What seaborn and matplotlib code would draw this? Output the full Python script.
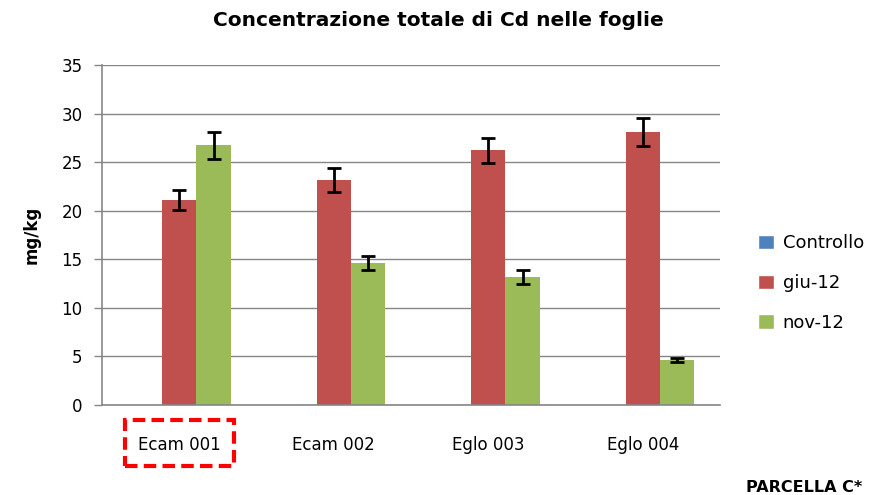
import numpy as np
import pandas as pd
import matplotlib
matplotlib.use("Agg")
import matplotlib.pyplot as plt
import seaborn as sns
from matplotlib.patches import Rectangle

categories = ["Ecam 001", "Ecam 002", "Eglo 003", "Eglo 004"]
series = ["Controllo", "giu-12", "nov-12"]
controllo = [0, 0, 0, 0]
giu12 = [21.1, 23.15, 26.2, 28.1]
nov12 = [26.75, 14.6, 13.2, 4.63]
controllo_err = [0, 0, 0, 0]
giu12_err = [1.05, 1.2, 1.3, 1.4]
nov12_err = [1.4, 0.75, 0.7, 0.2]
colors = ["#4F81BD", "#C0504D", "#9BBB59"]

values = {"Controllo": controllo, "giu-12": giu12, "nov-12": nov12}
errors = {"Controllo": controllo_err, "giu-12": giu12_err, "nov-12": nov12_err}

rows = []
for s in series:
    for c, v in zip(categories, values[s]):
        rows.append({"cat": c, "serie": s, "val": v})
df = pd.DataFrame(rows)

sns.set_style("white")
plt.rcParams["text.color"] = "black"
plt.rcParams["axes.labelcolor"] = "black"
fig = plt.figure(figsize=(8.7, 4.95), dpi=100)
ax = fig.add_axes([102/870, 1-405/495, (720-102)/870, (405-65)/495])

sns.barplot(data=df, x="cat", y="val", hue="serie", order=categories,
            hue_order=series, palette=colors, errorbar=None,
            width=3/4.5, gap=0, saturation=1, ax=ax, legend=False,
            linewidth=0, edgecolor="none", zorder=2)

for cont, s in zip(ax.containers, series):
    for bar, e in zip(cont.patches, errors[s]):
        if e > 0:
            cx = bar.get_x() + bar.get_width() / 2
            ax.errorbar(cx, bar.get_height(), yerr=e, fmt="none",
                        ecolor="black", elinewidth=2, capsize=5,
                        capthick=2, zorder=3)

gray = "#868686"
ax.set_xlim(-0.5, 3.5)
ax.set_ylim(0, 35)
ax.set_yticks(np.arange(0, 36, 5))
ax.yaxis.grid(True, color=gray, linewidth=1)
ax.set_axisbelow(True)
for sp in ["top", "right"]:
    ax.spines[sp].set_visible(False)
for sp in ["left", "bottom"]:
    ax.spines[sp].set_color(gray)
    ax.spines[sp].set_linewidth(1.2)
ax.tick_params(axis="y", direction="out", length=6, color=gray, width=1,
               labelsize=12, pad=8, left=True, labelcolor="black")
ax.set_xticks(range(len(categories)))
ax.set_xticklabels(categories)
ax.set_xticks(np.arange(-0.5, 4.0, 1.0), minor=True)
ax.tick_params(axis="x", which="major", length=0, labelsize=12, pad=22,
               labelcolor="black")
ax.tick_params(axis="x", which="minor", direction="out", length=6,
               color=gray, width=1)
ax.set_xlabel("")
ax.set_ylabel("mg/kg", fontsize=12, fontweight="bold", color="black")
ax.yaxis.set_label_coords(-0.100, 0.5)

fig.text(438/870, 1-20/495, "Concentrazione totale di Cd nelle foglie",
         ha="center", va="center", fontsize=14.5, fontweight="bold",
         color="black")
fig.text(862/870, 1-487/495, "PARCELLA C*", ha="right", va="center",
         fontsize=11.5, fontweight="bold", color="black")

# red dashed box around first category label
box = Rectangle((125/870, 1-466/495), (234-125)/870, (466-420)/495,
                transform=fig.transFigure, fill=False, edgecolor="#FF0000",
                linestyle=(0, (3, 1.5)), linewidth=3)
fig.patches.append(box)

handles = [Rectangle((0, 0), 1, 1, facecolor=c) for c in colors]
fig.legend(handles, series, loc="center left",
           bbox_to_anchor=(742/870, 1-283/495), frameon=False,
           fontsize=13, handlelength=0.85, handleheight=0.85,
           labelspacing=1.2, handletextpad=0.5)

fig.savefig("out.png", dpi=100)
